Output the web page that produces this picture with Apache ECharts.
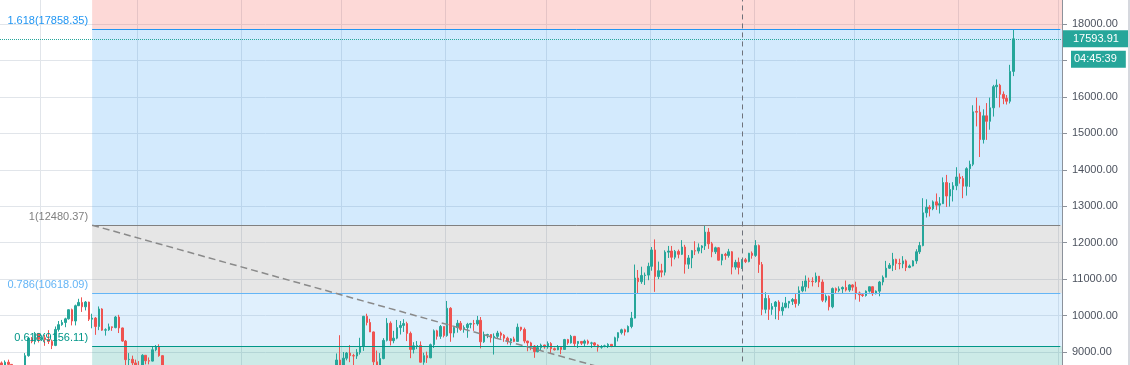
<!DOCTYPE html>
<html>
<head>
<meta charset="utf-8">
<script src="https://cdn.jsdelivr.net/npm/echarts@6/dist/echarts.min.js"></script>
<style>
html,body{margin:0;padding:0;background:#ffffff;}
#chart{width:1130px;height:365px;}
</style>
</head>
<body>
<div id="chart"></div>
<script>
// ---------- data ----------
const startDate = [2020, 0, 20];   // first daily candle
const totalDays = 317;             // candles + empty right margin

// daily candles [open, close, low, high]
const jan = [
[8700,8630,8520,8740],[8630,8720,8560,8770],[8720,8660,8600,8790],[8660,8390,8300,8670],
[8390,8430,8240,8510],[8430,8330,8290,8440],[8330,8600,8310,8600],[8600,8900,8580,8970],
[8900,9380,8870,9390],[9380,9290,9240,9410],[9290,9510,9210,9550],[9510,9350,9260,9520]
];
const feb = [
[9350,9390,9300,9460],[9390,9340,9170,9470],[9340,9290,9220,9600],[9290,9180,9080,9340],
[9180,9620,9160,9700],[9620,9750,9560,9850],[9750,9810,9720,9880],[9810,9910,9680,9940],
[9910,10160,9890,10170],[10160,9850,9730,10190],[9850,10270,9730,10300],[10270,10360,10260,10460],
[10360,10240,10100,10500],[10240,10370,10140,10400],[10370,9900,9850,10380],[9900,9930,9650,10050],
[9930,9700,9470,9960],[9700,10180,9600,10250],[10180,9600,9580,10200],[9600,9610,9450,9650],
[9610,9690,9580,9780],[9690,9670,9580,9700],[9670,9960,9650,9990],[9960,9660,9520,10020],
[9660,9300,9280,9670],[9300,8790,8620,9330],[8790,8800,8540,8970],[8800,8700,8470,8900],
[8700,8540,8520,8790]
];
const mar = [
[8540,8530,8410,8750],[8530,8910,8500,8940],[8910,8760,8660,8910],[8760,8750,8660,8850],
[8750,9060,8740,9140],[9060,9150,9020,9190],[9150,8900,8870,9210],[8900,8030,8000,8910],
[8030,7930,7630,8150],[7930,7900,7730,8140],[7900,7940,7600,7980],[7940,4970,4780,7960],
[4970,5560,3850,5950],[5560,5170,5080,5640],[5170,5360,5110,5940],[5360,5030,4450,5360],
[5030,5330,4970,5560],[5330,5420,5080,5430],[5420,6190,5280,6410],[6190,6200,5780,6850],
[6200,6190,5850,6450],[6190,5830,5760,6400],[5830,6470,5700,6610],[6470,6740,6430,6820],
[6740,6700,6520,6950],[6700,6750,6540,6800],[6750,6380,6280,6850],[6380,6250,6040,6390],
[6250,5880,5870,6270],[5880,6410,5860,6590],[6410,6440,6350,6520]
];
const apr = [
[6440,6670,6160,6750],[6670,6810,6600,7180],[6810,6740,6640,7000],[6740,6870,6680,6990],
[6870,6780,6680,6880],[6780,7340,6770,7360],[7340,7200,7120,7460],[7200,7370,7160,7420],
[7370,7300,7200,7380],[7300,6870,6770,7310],[6870,6890,6790,6950],[6890,6910,6830,7200],
[6910,6860,6560,6920],[6860,6880,6790,6980],[6880,6630,6620,6930],[6630,7100,6480,7190],
[7100,7050,7000,7140],[7050,7260,7030,7300],[7260,7130,7060,7280],[7130,6860,6780,7220],
[6860,6880,6810,6950],[6880,7130,6860,7160],[7130,7500,7060,7730],[7500,7540,7460,7620],
[7540,7570,7460,7710],[7570,7700,7520,7720],[7700,7760,7660,7800],[7760,7770,7700,7790],
[7770,8780,7760,8960],[8780,8620,8430,9460]
];
const may = [
[8620,8830,8610,9000],[8830,8970,8770,9000],[8970,8900,8720,9190],[8900,8890,8580,8950],
[8890,8990,8810,9080],[8990,9150,8930,9390],[9150,9980,9030,9990],[9980,9810,9730,10050],
[9810,9550,9550,9910],[9550,8730,8270,9560],[8730,8570,8230,9040],[8570,8820,8560,8970],
[8820,9320,8800,9380],[9320,9790,9290,9930],[9790,9310,9180,9840],[9310,9380,9240,9580],
[9380,9670,9350,9880],[9670,9730,9480,9850],[9730,9780,9550,9900],[9780,9510,9300,9830],
[9510,9070,8830,9560],[9070,9170,8960,9270],[9170,9180,9080,9300],[9180,8720,8710,9290],
[8720,8900,8650,8980],[8900,8840,8700,9010],[8840,9200,8830,9230],[9200,9580,9110,9620],
[9580,9430,9340,9610],[9430,9700,9360,9740],[9700,9450,9400,9700]
];
const jun = [
[9450,10200,9420,10400],[10200,9520,9280,10230],[9520,9670,9400,9690],[9670,9790,9530,9880],
[9790,9620,9580,9850],[9620,9670,9530,9730],[9670,9760,9390,9800],[9760,9780,9650,9800],
[9780,9770,9580,9880],[9770,9870,9720,9990],[9870,9280,9100,9960],[9280,9470,9250,9560],
[9470,9480,9380,9500],[9480,9390,9260,9490],[9390,9430,8930,9510],[9430,9520,9370,9580],
[9520,9460,9360,9560],[9460,9380,9280,9490],[9380,9300,9210,9420],[9300,9360,9180,9380],
[9360,9290,9270,9420],[9290,9680,9280,9780],[9680,9620,9570,9690],[9620,9300,9240,9670],
[9300,9250,9020,9310],[9250,9160,9050,9280],[9160,9010,8840,9190],[9010,9120,8990,9190],
[9120,9190,9030,9230],[9190,9140,9090,9200]
];
const jul = [
[9140,9230,9090,9290],[9230,9090,8950,9270],[9090,9060,9040,9120],[9060,9130,9050,9190],
[9130,9070,8940,9130],[9070,9340,9060,9360],[9340,9250,9200,9360],[9250,9430,9230,9470],
[9430,9230,9150,9440],[9230,9290,9110,9300],[9290,9240,9190,9300],[9240,9300,9160,9340],
[9300,9240,9200,9340],[9240,9250,9110,9280],[9250,9190,9160,9270],[9190,9130,9010,9210],
[9130,9150,9090,9190],[9150,9170,9130,9200],[9170,9210,9110,9240],[9210,9160,9130,9220],
[9160,9390,9150,9420],[9390,9530,9290,9540],[9530,9610,9480,9640],[9610,9550,9450,9640],
[9550,9700,9540,9730],[9700,9930,9650,10100],[9930,11030,9920,11400],[11030,10930,10600,11250],
[10930,11100,10870,11340],[11100,11110,10840,11180],[11110,11350,10970,11450]
];
const aug = [
[11350,11800,11230,11880],[11800,11070,10650,12090],[11070,11230,11000,11480],[11230,11190,11050,11420],
[11190,11740,11100,11790],[11740,11770,11580,11910],[11770,11600,11350,11910],[11600,11760,11540,11800],
[11760,11680,11570,11810],[11680,11880,11660,12070],[11880,11410,11150,11940],[11410,11580,11280,11660],
[11580,11780,11300,11800],[11780,11770,11660,12040],[11770,11860,11700,11980],[11860,11910,11710,11930],
[11910,12290,11800,12480],[12290,11970,11830,12400],[11970,11750,11600,12020],[11750,11860,11690,11890],
[11860,11520,11510,11880],[11520,11680,11380,11690],[11680,11650,11530,11720],[11650,11750,11590,11830],
[11750,11330,11130,11770],[11330,11460,11260,11530],[11460,11320,11130,11590],[11320,11530,11280,11550],
[11530,11480,11440,11580],[11480,11710,11460,11720],[11710,11650,11560,11760]
];
const sep = [
[11650,11920,11610,12070],[11920,11400,11170,11950],[11400,10170,10010,11470],[10170,10470,10060,10640],
[10470,10170,9880,10560],[10170,10250,10020,10340],[10250,10370,9900,10400],[10370,10130,9880,10420],
[10130,10230,10000,10360],[10230,10340,10200,10510],[10340,10390,10200,10400],[10390,10440,10290,10480],
[10440,10330,10220,10590],[10330,10680,10270,10800],[10680,10790,10640,10950],[10790,10950,10660,11100],
[10950,10940,10750,11040],[10940,10930,10800,11050],[10930,11080,10900,11180],[11080,10920,10780,11080],
[10920,10420,10370,10990],[10420,10530,10360,10580],[10530,10240,10140,10550],[10240,10740,10200,10770],
[10740,10690,10590,10770],[10690,10730,10640,10800],[10730,10770,10620,10800],[10770,10700,10660,10960],
[10700,10840,10650,10860],[10840,10780,10680,10860]
];
const oct = [
[10780,10620,10440,10930],[10620,10570,10380,10660],[10570,10550,10510,10600],[10550,10670,10520,10690],
[10670,10790,10630,10800],[10790,10600,10540,10800],[10600,10670,10580,10690],[10670,10920,10530,10950],
[10920,11050,10830,11100],[11050,11300,11050,11500],[11300,11380,11280,11440],[11380,11540,11220,11720],
[11540,11430,11250,11560],[11430,11420,11270,11560],[11420,11500,11300,11630],[11500,11320,11220,11540],
[11320,11360,11300,11400],[11360,11500,11350,11520],[11500,11750,11420,11820],[11750,11920,11690,12020],
[11920,12820,11900,13220],[12820,12970,12690,13190],[12970,12930,12720,13030],[12930,13120,12890,13160],
[13120,13030,12900,13350],[13030,13070,12800,13250],[13070,13650,13060,13790],[13650,13280,12980,13860],
[13280,13460,12990,13640],[13460,13560,13130,13660],[13560,13800,13440,14070]
];
const nov = [
[13800,13760,13620,13900],[13760,13550,13220,13830],[13550,14030,13290,14070],[14030,14150,13530,14250],
[14150,15590,14100,15770],[15600,15580,15190,15980],[15580,14830,14350,15760],[14830,15480,14720,15660],
[15480,15330,14820,15830],[15330,15700,15100,15980],[15700,16280,15460,16330],[16280,16320,15970,16480],
[16320,16070,15710,16360],[16070,15960,15800,16150],[15960,15880,15790,16050],[15880,16700,15820,16880],
[16700,17593.91,16570,17858]
];

// Fibonacci levels drawn on the chart
const fibRatios = ['1.618', '1', '0.786', '0.618'];
const fibPrices = [17858.35, 12480.37, 10618.09, 9156.11];
const fibStartDate = '2020-02-16';
const trendFrom = ['2020-02-16', 12480.37];
const trendTo = ['2020-07-23', 8418];
const crosshairDate = '2020-08-28';
const lastPrice = 17593.91;
const countdown = '04:45:39';

// y-axis ticks
const yMin = 8000, yMax = 19000, yStep = 1000;

// ---------- build ----------
const dates = [];
for (let i = 0; i < totalDays; i++) {
  const d = new Date(Date.UTC(startDate[0], startDate[1], startDate[2] + i));
  dates.push(d.toISOString().slice(0, 10));
}
const lastDate = dates[dates.length - 1];
const ohlc = [].concat(jan, feb, mar, apr, may, jun, jul, aug, sep, oct, nov);

const UP = '#26a69a', DOWN = '#ef5350';
const FONT = '"Liberation Sans", Arial, sans-serif';
const levelColors = ['#2196f3', '#808080', '#64b5f6', '#009688'];
const zoneFill = {
  above: 'rgba(244,67,54,0.2)',
  z1618: 'rgba(33,150,243,0.2)',
  z1: 'rgba(128,128,128,0.2)',
  z786: 'rgba(100,181,246,0.2)',
  z618: 'rgba(0,150,136,0.2)'
};

const zones = [
  [{ xAxis: fibStartDate, yAxis: fibPrices[0], itemStyle: { color: zoneFill.above } }, { xAxis: Infinity, yAxis: yMax }],
  [{ xAxis: fibStartDate, yAxis: fibPrices[1], itemStyle: { color: zoneFill.z1618 } }, { xAxis: Infinity, yAxis: fibPrices[0] }],
  [{ xAxis: fibStartDate, yAxis: fibPrices[2], itemStyle: { color: zoneFill.z1 } }, { xAxis: Infinity, yAxis: fibPrices[1] }],
  [{ xAxis: fibStartDate, yAxis: fibPrices[3], itemStyle: { color: zoneFill.z786 } }, { xAxis: Infinity, yAxis: fibPrices[2] }],
  [{ xAxis: fibStartDate, yAxis: yMin, itemStyle: { color: zoneFill.z618 } }, { xAxis: Infinity, yAxis: fibPrices[3] }]
];

const lines = [];
fibPrices.forEach((p, i) => {
  lines.push([
    {
      coord: [fibStartDate, p],
      lineStyle: { color: levelColors[i], width: 1, type: 'solid' },
      label: {
        show: true, position: 'start', distance: 4, verticalAlign: 'bottom',
        padding: [0, 0, 3, 0],
        formatter: fibRatios[i] + '(' + p.toFixed(2) + ')',
        color: levelColors[i], fontSize: 11, fontFamily: FONT
      }
    },
    { coord: [lastDate, p] }
  ]);
});
// trend line of the drawing
lines.push([
  { coord: trendFrom, lineStyle: { color: '#8a8a8a', width: 1.5, type: [7, 4] }, label: { show: false } },
  { coord: trendTo }
]);
// crosshair
lines.push({ xAxis: crosshairDate, lineStyle: { color: '#6f727b', width: 1, type: [5, 4] }, label: { show: false } });
// last price line + labels
lines.push({
  yAxis: lastPrice,
  lineStyle: { color: UP, width: 1, type: 'dotted' },
  label: {
    show: true, position: 'end', distance: 1,
    formatter: lastPrice.toFixed(2),
    backgroundColor: UP, color: '#ffffff', padding: [3, 10, 3, 10],
    fontSize: 11, fontFamily: FONT
  }
});
lines.push({
  yAxis: lastPrice,
  lineStyle: { color: 'rgba(0,0,0,0)', width: 0 },
  label: {
    show: true, position: 'end', distance: 9, verticalAlign: 'top',
    padding: [12, 0, 0, 0],
    formatter: '{b|' + countdown + '}',
    rich: { b: { backgroundColor: UP, color: '#ffffff', padding: [3, 9, 3, 3], fontSize: 11, fontFamily: FONT } }
  }
});

const chart = echarts.init(document.getElementById('chart'), null, { renderer: 'canvas' });
chart.setOption({
  animation: false,
  backgroundColor: '#ffffff',
  textStyle: { fontFamily: FONT },
  grid: { left: 0, right: 68, top: -12.44, bottom: -23.44, containLabel: false, outerBoundsMode: 'none' },
  xAxis: {
    type: 'category', data: dates, boundaryGap: true,
    axisLine: { show: false }, axisTick: { show: false }, axisLabel: { show: false },
    splitLine: { show: true, interval: (idx, val) => String(val).slice(8) === '01', lineStyle: { color: '#e1e5ea', width: 1 } }
  },
  yAxis: {
    type: 'value', position: 'right', min: yMin, max: yMax, interval: yStep,
    axisLine: { show: true, lineStyle: { color: '#8c929b' } },
    axisTick: { show: true, length: 5, lineStyle: { color: '#8c929b' } },
    axisLabel: { margin: 10, color: '#4c525e', fontSize: 11, fontFamily: FONT, formatter: v => v.toFixed(2) },
    splitLine: { show: true, lineStyle: { color: '#e1e5ea', width: 1 } }
  },
  graphic: [{ type: 'rect', right: 0, top: 0, shape: { width: 2, height: 365 }, style: { fill: '#d6d8de' }, z: 100 }],
  series: [
    {
      type: 'line', data: [], z: 1, silent: true, clip: false,
      markArea: { silent: true, data: zones },
      markLine: { silent: true, symbol: ['none', 'none'], animation: false, data: lines }
    },
    {
      type: 'candlestick', data: ohlc, z: 3, barWidth: 2,
      itemStyle: { color: UP, color0: DOWN, borderColor: UP, borderColor0: DOWN, borderColorDoji: UP, borderWidth: 1 }
    }
  ]
});
</script>
</body>
</html>
